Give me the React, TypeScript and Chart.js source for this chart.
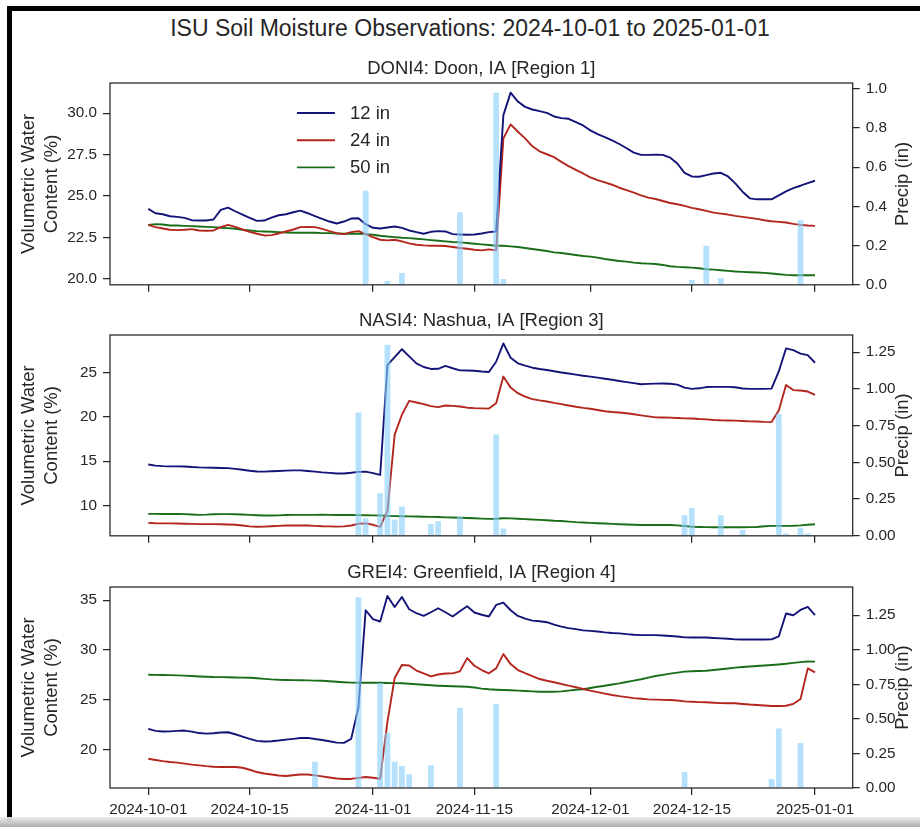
import React, { useEffect, useRef } from 'react';
import { Chart, registerables } from 'chart.js';

Chart.register(...registerables);

// ---------------- data ----------------
const START_DATE = '2024-10-01';
const END_DATE = '2025-01-01';
const X_TICK_LABELS = ['2024-10-01', '2024-10-15', '2024-11-01', '2024-11-15', '2024-12-01', '2024-12-15', '2025-01-01'];
const SERIES_LABELS = ['12 in', '24 in', '50 in'];

// DONI4 daily volumetric water content (%), 2024-10-01 .. 2025-01-01
const DONI4_12 = [
  24.22, 23.96, 23.90, 23.78, 23.74, 23.68, 23.54, 23.52, 23.52, 23.58,
  24.16, 24.30, 24.08, 23.88, 23.68, 23.50, 23.52, 23.70, 23.84, 23.90,
  24.02, 24.12, 23.96, 23.78, 23.62, 23.46, 23.34, 23.46, 23.64, 23.66,
  23.30, 23.08, 23.04, 23.10, 23.16, 23.08, 22.92, 22.82, 22.72, 22.84,
  22.88, 22.86, 22.70, 22.68, 22.66, 22.68, 22.74, 22.82, 22.86, 29.88,
  31.24, 30.70, 30.38, 30.22, 30.12, 30.02, 29.80, 29.70, 29.66, 29.46,
  29.26, 28.96, 28.74, 28.56, 28.36, 28.14, 27.88, 27.62, 27.48, 27.48,
  27.50, 27.48, 27.32, 26.96, 26.40, 26.18, 26.16, 26.26, 26.36, 26.40,
  26.18, 25.76, 25.26, 24.86, 24.80, 24.80, 24.80, 25.04, 25.28, 25.48,
  25.62, 25.78, 25.92,
];
const DONI4_24 = [
  23.26, 23.12, 23.04, 22.96, 22.94, 22.96, 23.00, 22.92, 22.90, 22.92,
  23.12, 23.26, 23.14, 22.98, 22.84, 22.72, 22.62, 22.64, 22.74, 22.86,
  22.98, 23.12, 23.14, 23.12, 23.02, 22.88, 22.76, 22.70, 22.82, 22.88,
  22.70, 22.52, 22.36, 22.32, 22.36, 22.26, 22.14, 22.06, 22.02, 22.00,
  22.00, 21.98, 21.92, 21.86, 21.82, 21.76, 21.72, 21.78, 21.72, 28.48,
  29.32, 28.88, 28.48, 28.00, 27.70, 27.52, 27.34, 27.06, 26.80, 26.58,
  26.36, 26.12, 25.96, 25.82, 25.68, 25.50, 25.36, 25.20, 25.04, 24.90,
  24.82, 24.70, 24.58, 24.50, 24.40, 24.28, 24.20, 24.10, 24.00, 23.94,
  23.88, 23.80, 23.74, 23.68, 23.62, 23.54, 23.48, 23.44, 23.40, 23.32,
  23.26, 23.22, 23.20,
];
const DONI4_50 = [
  23.26, 23.30, 23.28, 23.22, 23.22, 23.20, 23.18, 23.16, 23.14, 23.12,
  23.08, 23.06, 23.02, 22.96, 22.92, 22.88, 22.86, 22.84, 22.82, 22.80,
  22.78, 22.78, 22.78, 22.78, 22.76, 22.76, 22.74, 22.72, 22.72, 22.72,
  22.70, 22.66, 22.60, 22.56, 22.52, 22.48, 22.46, 22.42, 22.38, 22.34,
  22.30, 22.26, 22.22, 22.20, 22.16, 22.12, 22.08, 22.04, 22.00, 22.00,
  21.96, 21.92, 21.86, 21.80, 21.74, 21.68, 21.60, 21.56, 21.50, 21.44,
  21.38, 21.34, 21.28, 21.20, 21.14, 21.08, 21.04, 20.98, 20.94, 20.92,
  20.90, 20.84, 20.76, 20.72, 20.70, 20.68, 20.64, 20.58, 20.56, 20.52,
  20.48, 20.44, 20.42, 20.40, 20.38, 20.36, 20.32, 20.28, 20.24, 20.22,
  20.22, 20.22, 20.22,
];
const DONI4_RAIN_DATES = ['2024-10-31', '2024-11-03', '2024-11-05', '2024-11-13', '2024-11-18', '2024-11-19', '2024-12-15', '2024-12-17', '2024-12-19', '2024-12-30'];
const DONI4_RAIN = [0.48, 0.02, 0.06, 0.37, 0.98, 0.03, 0.025, 0.20, 0.035, 0.33];

// NASI4
const NASI4_12 = [
  14.63, 14.50, 14.44, 14.42, 14.42, 14.40, 14.34, 14.30, 14.28, 14.26,
  14.24, 14.22, 14.14, 14.04, 13.92, 13.84, 13.82, 13.86, 13.90, 13.94,
  13.96, 13.96, 13.90, 13.82, 13.74, 13.68, 13.62, 13.62, 13.70, 13.80,
  13.82, 13.65, 13.45, 25.80, 26.70, 27.60, 26.80, 26.00, 25.60, 25.38,
  25.40, 25.72, 25.46, 25.22, 25.20, 25.18, 25.10, 25.04, 26.19, 28.25,
  26.64, 26.01, 25.75, 25.52, 25.38, 25.26, 25.12, 24.98, 24.86, 24.74,
  24.62, 24.52, 24.40, 24.28, 24.16, 24.02, 23.90, 23.78, 23.66, 23.70,
  23.73, 23.74, 23.72, 23.62, 23.28, 23.14, 23.20, 23.34, 23.36, 23.36,
  23.36, 23.32, 23.18, 23.14, 23.14, 23.14, 23.16, 25.10, 27.69, 27.50,
  27.10, 26.93, 26.08,
];
const NASI4_24 = [
  8.06, 8.02, 8.00, 8.00, 7.98, 7.96, 7.94, 7.92, 7.92, 7.92,
  7.90, 7.88, 7.84, 7.76, 7.66, 7.62, 7.64, 7.68, 7.72, 7.76,
  7.76, 7.78, 7.76, 7.72, 7.68, 7.66, 7.64, 7.66, 7.76, 7.96,
  8.00, 7.84, 7.61, 9.40, 17.98, 20.22, 21.79, 21.60, 21.42, 21.20,
  21.08, 21.27, 21.22, 21.16, 21.02, 20.97, 20.94, 20.92, 21.53, 24.52,
  23.28, 22.65, 22.26, 21.98, 21.84, 21.72, 21.56, 21.42, 21.26, 21.12,
  21.00, 20.90, 20.76, 20.62, 20.54, 20.48, 20.40, 20.28, 20.16, 20.04,
  19.93, 19.92, 19.90, 19.86, 19.82, 19.80, 19.74, 19.70, 19.64, 19.60,
  19.58, 19.56, 19.52, 19.48, 19.46, 19.42, 19.40, 20.70, 23.58, 23.00,
  22.96, 22.84, 22.46,
];
const NASI4_50 = [
  9.07, 9.07, 9.06, 9.06, 9.05, 9.04, 9.00, 8.96, 8.98, 9.02,
  9.04, 9.04, 9.02, 9.00, 8.96, 8.92, 8.88, 8.88, 8.90, 8.94,
  8.96, 8.96, 8.96, 8.96, 8.98, 8.96, 8.94, 8.94, 8.94, 8.93,
  8.92, 8.90, 8.88, 8.85, 8.82, 8.80, 8.79, 8.77, 8.75, 8.73,
  8.71, 8.68, 8.66, 8.64, 8.61, 8.58, 8.54, 8.51, 8.52, 8.58,
  8.56, 8.52, 8.48, 8.44, 8.40, 8.36, 8.30, 8.26, 8.20, 8.14,
  8.10, 8.06, 8.02, 7.98, 7.94, 7.90, 7.87, 7.84, 7.82, 7.81,
  7.81, 7.81, 7.81, 7.78, 7.70, 7.62, 7.60, 7.58, 7.57, 7.57,
  7.57, 7.57, 7.57, 7.58, 7.60, 7.68, 7.72, 7.72, 7.72, 7.74,
  7.78, 7.84, 7.91,
];
const NASI4_RAIN_DATES = ['2024-10-30', '2024-10-31', '2024-11-02', '2024-11-03', '2024-11-04', '2024-11-05', '2024-11-09', '2024-11-10', '2024-11-13', '2024-11-18', '2024-11-19', '2024-12-14', '2024-12-15', '2024-12-19', '2024-12-22', '2024-12-27', '2024-12-28', '2024-12-30', '2024-12-31'];
const NASI4_RAIN = [0.84, 0.12, 0.29, 1.30, 0.11, 0.20, 0.08, 0.10, 0.13, 0.69, 0.05, 0.14, 0.19, 0.14, 0.04, 0.83, 0.015, 0.055, 0.015];

// GREI4
const GREI4_12 = [
  22.10, 21.90, 21.83, 21.85, 21.90, 21.93, 21.82, 21.68, 21.62, 21.66,
  21.74, 21.76, 21.56, 21.33, 21.10, 20.90, 20.83, 20.86, 20.93, 21.02,
  21.10, 21.18, 21.20, 21.08, 20.98, 20.86, 20.72, 20.70, 21.10, 24.27,
  34.00, 33.10, 32.87, 35.43, 34.33, 35.33, 34.10, 33.70, 33.43, 33.80,
  34.20, 33.80, 33.37, 33.90, 34.40, 33.77, 33.55, 33.37, 34.53, 34.77,
  34.00, 33.43, 33.15, 32.96, 32.90, 32.80, 32.55, 32.36, 32.20, 32.10,
  31.98, 31.93, 31.86, 31.78, 31.72, 31.68, 31.60, 31.54, 31.50, 31.50,
  31.50, 31.46, 31.42, 31.36, 31.28, 31.27, 31.27, 31.26, 31.22, 31.18,
  31.14, 31.08, 31.07, 31.07, 31.07, 31.07, 31.08, 31.37, 33.67, 33.50,
  34.03, 34.33, 33.50,
];
const GREI4_24 = [
  19.10, 18.98, 18.86, 18.78, 18.72, 18.62, 18.52, 18.44, 18.36, 18.30,
  18.28, 18.27, 18.27, 18.20, 18.00, 17.77, 17.62, 17.52, 17.42, 17.37,
  17.45, 17.52, 17.53, 17.44, 17.33, 17.22, 17.12, 17.08, 17.08, 17.18,
  17.27, 17.20, 17.10, 22.80, 27.20, 28.50, 28.45, 27.95, 27.67, 27.37,
  27.55, 27.65, 27.67, 27.87, 29.20, 28.43, 28.00, 27.67, 28.17, 29.60,
  28.60, 28.00, 27.68, 27.38, 27.10, 26.93, 26.78, 26.60, 26.44, 26.28,
  26.10, 25.93, 25.78, 25.64, 25.50, 25.38, 25.28, 25.18, 25.12, 25.06,
  25.03, 25.01, 25.00, 24.94, 24.86, 24.82, 24.78, 24.77, 24.72, 24.68,
  24.67, 24.67, 24.60, 24.54, 24.50, 24.45, 24.40, 24.40, 24.42, 24.60,
  25.10, 28.17, 27.77,
];
const GREI4_50 = [
  27.53, 27.52, 27.50, 27.49, 27.47, 27.44, 27.40, 27.36, 27.33, 27.30,
  27.29, 27.28, 27.26, 27.24, 27.23, 27.18, 27.12, 27.06, 27.02, 27.00,
  26.99, 26.98, 26.96, 26.94, 26.93, 26.88, 26.83, 26.78, 26.74, 26.73,
  26.73, 26.72, 26.72, 26.70, 26.69, 26.67, 26.63, 26.57, 26.52, 26.47,
  26.43, 26.40, 26.37, 26.35, 26.33, 26.25, 26.14, 26.07, 26.03, 26.00,
  25.97, 25.94, 25.90, 25.86, 25.83, 25.82, 25.82, 25.86, 25.94, 26.02,
  26.08, 26.20, 26.32, 26.43, 26.55, 26.66, 26.80, 26.94, 27.08, 27.24,
  27.40, 27.52, 27.64, 27.74, 27.84, 27.88, 27.91, 27.93, 28.00, 28.08,
  28.16, 28.24, 28.30, 28.36, 28.40, 28.45, 28.50, 28.56, 28.63, 28.72,
  28.80, 28.86, 28.85,
];
const GREI4_RAIN_DATES = ['2024-10-24', '2024-10-30', '2024-11-02', '2024-11-03', '2024-11-04', '2024-11-05', '2024-11-06', '2024-11-09', '2024-11-13', '2024-11-18', '2024-12-14', '2024-12-26', '2024-12-27', '2024-12-30'];
const GREI4_RAIN = [0.19, 1.38, 0.76, 0.40, 0.19, 0.16, 0.10, 0.165, 0.58, 0.61, 0.115, 0.065, 0.43, 0.325];

const DONI4_VWC_TICKS = [20, 22.5, 25, 27.5, 30];
const NASI4_VWC_TICKS = [10, 15, 20, 25];
const GREI4_VWC_TICKS = [20, 25, 30, 35];
const DONI4_PRECIP_TICKS = [0, 0.2, 0.4, 0.6, 0.8, 1.0];
const QUARTER_PRECIP_TICKS = [0, 0.25, 0.5, 0.75, 1.0, 1.25];

// ---------------- style ----------------
const FONT = "'Liberation Sans', Arial, Helvetica, sans-serif";
const INK = '#262626';
const SERIES_COLORS = ['#141478', '#b3261e', '#1a6e1a'];
const BAR_COLOR = 'rgba(135, 206, 250, 0.62)';
const TICK_FONT = 15.3;
const LABEL_FONT = 18.5;

const dayIndex = (d: string) => Math.round((Date.parse(d) - Date.parse(START_DATE)) / 86400000);
const X_TICK_DAYS = X_TICK_LABELS.map(dayIndex);

type PanelSpec = {
  id: string;
  title: string;
  series: number[][];
  rainDates: string[];
  rain: number[];
  vwcTicks: number[];
  vwcDigits: number;
  vwcMin: number;
  vwcMax: number;
  precipTicks: number[];
  precipDigits: number;
  precipMax: number;
  legend: boolean;
  xLabels: boolean;
  top: number;
  height: number;
  xHeight: number;
};

const PANELS: PanelSpec[] = [
  {
    id: 'DONI4', title: 'DONI4: Doon, IA [Region 1]',
    series: [DONI4_12, DONI4_24, DONI4_50], rainDates: DONI4_RAIN_DATES, rain: DONI4_RAIN,
    vwcTicks: DONI4_VWC_TICKS, vwcDigits: 1, vwcMin: 19.64, vwcMax: 31.82,
    precipTicks: DONI4_PRECIP_TICKS, precipDigits: 1, precipMax: 1.03,
    legend: true, xLabels: false, top: 58, height: 242, xHeight: 14,
  },
  {
    id: 'NASI4', title: 'NASI4: Nashua, IA [Region 3]',
    series: [NASI4_12, NASI4_24, NASI4_50], rainDates: NASI4_RAIN_DATES, rain: NASI4_RAIN,
    vwcTicks: NASI4_VWC_TICKS, vwcDigits: 0, vwcMin: 6.6, vwcMax: 29.2,
    precipTicks: QUARTER_PRECIP_TICKS, precipDigits: 2, precipMax: 1.367,
    legend: false, xLabels: false, top: 310, height: 241, xHeight: 14,
  },
  {
    id: 'GREI4', title: 'GREI4: Greenfield, IA [Region 4]',
    series: [GREI4_12, GREI4_24, GREI4_50], rainDates: GREI4_RAIN_DATES, rain: GREI4_RAIN,
    vwcTicks: GREI4_VWC_TICKS, vwcDigits: 0, vwcMin: 16.17, vwcMax: 36.33,
    precipTicks: QUARTER_PRECIP_TICKS, precipDigits: 2, precipMax: 1.454,
    legend: false, xLabels: true, top: 562, height: 257, xHeight: 31,
  },
];

function makeDecor(panel: PanelSpec) {
  return {
    id: 'panelDecor',
    afterDatasetsDraw(chart: any) {
      const { ctx, chartArea: a } = chart;
      ctx.save();
      ctx.strokeStyle = INK;
      ctx.lineWidth = 1.25;
      ctx.strokeRect(a.left, a.top, a.right - a.left, a.bottom - a.top);

      if (panel.legend) {
        const x0 = a.left + (a.right - a.left) * 0.2517;
        ctx.font = `${LABEL_FONT}px ${FONT}`;
        ctx.textAlign = 'left';
        ctx.textBaseline = 'middle';
        SERIES_LABELS.forEach((lab, i) => {
          const y = a.top + 30 + i * 27.2;
          ctx.strokeStyle = SERIES_COLORS[i];
          ctx.lineWidth = 1.9;
          ctx.beginPath();
          ctx.moveTo(x0, y);
          ctx.lineTo(x0 + 38, y);
          ctx.stroke();
          ctx.fillStyle = INK;
          ctx.fillText(lab, x0 + 53, y + 0.5);
        });
      }

      ctx.fillStyle = INK;
      ctx.font = `${LABEL_FONT}px ${FONT}`;
      ctx.translate(a.right + 50, (a.top + a.bottom) / 2);
      ctx.rotate(-Math.PI / 2);
      ctx.textAlign = 'center';
      ctx.textBaseline = 'middle';
      ctx.fillText('Precip (in)', 0, 0);
      ctx.restore();
    },
  };
}

function buildConfig(panel: PanelSpec): any {
  const gridOpts = {
    drawOnChartArea: false,
    drawTicks: true,
    tickLength: 7,
    color: INK,
    tickColor: INK,
    tickWidth: 1.25,
    lineWidth: 1.25,
    offset: false,
  };
  const tickFont = { size: TICK_FONT, family: FONT };
  const lineSets = panel.series.map((vals, i) => ({
    type: 'line',
    label: SERIES_LABELS[i],
    data: vals.map((v, d) => ({ x: d, y: v })),
    borderColor: SERIES_COLORS[i],
    backgroundColor: SERIES_COLORS[i],
    borderWidth: 1.9,
    borderJoinStyle: 'round',
    pointRadius: 0,
    tension: 0,
    fill: false,
    yAxisID: 'y',
    xAxisID: 'x',
    order: 1,
  }));
  const barSet = {
    type: 'bar',
    label: 'Precip',
    data: panel.rainDates.map((d, i) => ({ x: dayIndex(d), y: panel.rain[i] })),
    backgroundColor: BAR_COLOR,
    borderWidth: 0,
    barPercentage: 1,
    categoryPercentage: 0.8,
    yAxisID: 'y1',
    xAxisID: 'x',
    order: 0,
  };
  return {
    type: 'bar',
    data: { datasets: [barSet, ...lineSets] },
    options: {
      animation: false,
      responsive: false,
      events: [],
      layout: { padding: 0 },
      plugins: {
        legend: { display: false },
        tooltip: { enabled: false },
        title: {
          display: true,
          text: panel.title,
          color: INK,
          fullSize: false,
          font: { size: LABEL_FONT, family: FONT, weight: 'normal', lineHeight: 1.2 },
          padding: { top: 0, bottom: 2.8 },
        },
      },
      scales: {
        x: {
          type: 'linear',
          position: 'bottom',
          min: -5.28,
          max: 97.2,
          offset: false,
          grid: gridOpts,
          border: { display: false },
          ticks: {
            display: panel.xLabels,
            autoSkip: false,
            maxRotation: 0,
            minRotation: 0,
            padding: 5.5,
            color: INK,
            font: tickFont,
            callback: (_v: any, i: number) => X_TICK_LABELS[i],
          },
          afterBuildTicks: (s: any) => {
            s.ticks = X_TICK_DAYS.map((d) => ({ value: d }));
          },
          afterFit: (s: any) => {
            s.height = panel.xHeight;
          },
        },
        y: {
          type: 'linear',
          position: 'left',
          min: panel.vwcMin,
          max: panel.vwcMax,
          grid: gridOpts,
          border: { display: false },
          ticks: {
            padding: 6,
            color: INK,
            font: tickFont,
            callback: (v: any) => Number(v).toFixed(panel.vwcDigits),
          },
          afterBuildTicks: (s: any) => {
            s.ticks = panel.vwcTicks.map((v) => ({ value: v }));
          },
          title: {
            display: true,
            text: ['Volumetric Water', 'Content (%)'],
            color: INK,
            font: { size: LABEL_FONT, family: FONT, lineHeight: 1.24 },
            padding: { top: 17.5, bottom: 0 },
          },
          afterFit: (s: any) => {
            s.width = 110;
          },
        },
        y1: {
          type: 'linear',
          position: 'right',
          min: 0,
          max: panel.precipMax,
          grid: gridOpts,
          border: { display: false },
          ticks: {
            padding: 6,
            color: INK,
            font: tickFont,
            callback: (v: any) => Number(v).toFixed(panel.precipDigits),
          },
          afterBuildTicks: (s: any) => {
            s.ticks = panel.precipTicks.map((v) => ({ value: v }));
          },
          afterFit: (s: any) => {
            s.width = 67.3;
          },
        },
      },
    },
    plugins: [makeDecor(panel)],
  };
}

function Panel({ panel }: { panel: PanelSpec }) {
  const ref = useRef<HTMLCanvasElement | null>(null);
  useEffect(() => {
    if (!ref.current) return;
    const chart = new Chart(ref.current, buildConfig(panel));
    return () => chart.destroy();
  }, [panel]);
  return (
    <canvas
      ref={ref}
      width={920}
      height={panel.height}
      style={{ position: 'absolute', left: 0, top: panel.top, width: 920, height: panel.height }}
    />
  );
}

export default function App() {
  return (
    <div
      style={{
        position: 'fixed', left: 0, top: 0, width: 920, height: 827,
        overflow: 'hidden', background: '#ffffff', fontFamily: FONT,
      }}
    >
      <div
        style={{
          position: 'absolute', left: 20, width: 900, top: 14, height: 28,
          lineHeight: '28px', fontSize: 23, textAlign: 'center', color: INK, whiteSpace: 'nowrap',
        }}
      >
        {`ISU Soil Moisture Observations: ${START_DATE} to ${END_DATE}`}
      </div>
      {PANELS.map((p) => (
        <Panel key={p.id} panel={p} />
      ))}
      <div
        style={{
          position: 'absolute', left: 7, top: 6, width: 913, height: 821, boxSizing: 'border-box',
          borderLeft: '5px solid #000', borderTop: '5px solid #000', pointerEvents: 'none',
        }}
      />
      <div
        style={{
          position: 'absolute', left: 0, top: 817, width: 920, height: 10, pointerEvents: 'none',
          background: 'linear-gradient(to bottom, rgba(235,235,235,0.9), rgba(200,200,200,1) 60%, rgba(170,170,170,1))',
        }}
      />
    </div>
  );
}
